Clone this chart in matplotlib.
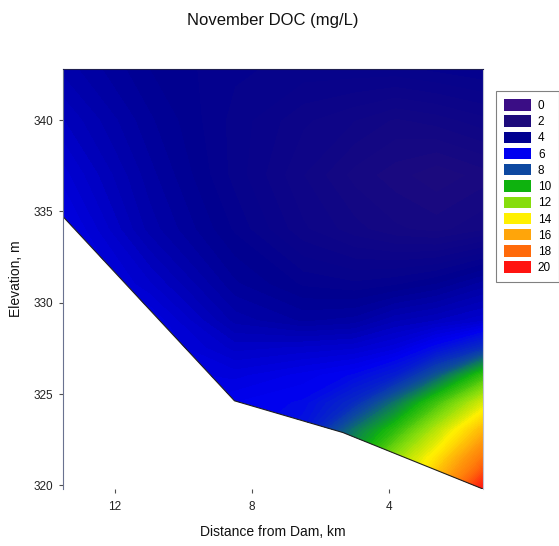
import matplotlib.pyplot as plt
import numpy as np
from matplotlib.colors import LinearSegmentedColormap
from matplotlib.patches import Polygon, Patch

plt.rcParams['font.family'] = ['Liberation Sans', 'DejaVu Sans']

# stations (km from dam) and elevations (m) of the DOC grid
dist_km = [13.5, 11.0, 8.5, 6.5, 5.0, 3.8, 2.6, 1.24]
elev_m = [342.8, 340, 337, 334, 331, 329, 327.5, 326, 324.5, 323, 321.5, 319.8]

# DOC (mg/L), one row per elevation, one column per station
doc = [
    [4.6, 4.0, 3.7, 3.6, 3.6, 3.6, 3.7, 3.8],      # 342.8
    [5.0, 4.2, 3.6, 3.2, 3.0, 2.8, 2.9, 3.1],      # 340
    [5.4, 4.4, 3.6, 3.0, 2.6, 2.4, 2.2, 2.4],      # 337
    [5.8, 4.6, 3.8, 3.2, 2.9, 2.7, 2.6, 2.8],      # 334
    [6.0, 5.2, 4.2, 3.8, 3.7, 3.8, 4.0, 4.4],      # 331
    [6.0, 5.7, 4.6, 4.3, 4.4, 4.8, 5.0, 5.3],      # 329
    [6.0, 5.8, 5.1, 5.2, 5.3, 5.6, 6.3, 7.3],      # 327.5
    [6.0, 5.8, 5.6, 5.9, 6.2, 6.8, 8.3, 10.6],     # 326
    [6.0, 5.8, 6.0, 6.2, 7.2, 8.8, 10.8, 13.3],    # 324.5
    [6.0, 5.8, 6.0, 6.5, 8.8, 10.5, 12.8, 15.5],   # 323
    [6.0, 5.8, 6.0, 6.5, 9.8, 12.2, 14.3, 17.5],   # 321.5
    [6.0, 5.8, 6.0, 6.5, 10.2, 13.0, 16.0, 20.0],  # 319.8
]

# reservoir bottom profile
bottom_km = [13.5, 8.5, 5.33, 1.24]
bottom_m = [334.7, 324.63, 322.89, 319.8]

legend_levels = [0, 2, 4, 6, 8, 10, 12, 14, 16, 18, 20]
legend_colors = ['#3a0d85', '#1e0b7c', '#000090', '#0000f0', '#0d48a0', '#0eb20e',
                 '#86dd0c', '#fff000', '#ffa50a', '#ff6a0a', '#ff1410']

cmap = LinearSegmentedColormap.from_list(
    "doc", [(v / 20, c) for v, c in zip(legend_levels, legend_colors)])

fig = plt.figure(figsize=(5.59, 5.46), dpi=100)
ax = fig.add_axes([63.3 / 559, 1 - 489 / 546, (483 - 63.3) / 559, (489 - 69) / 546])

X, Y = np.meshgrid(dist_km, elev_m)
cs = ax.contourf(X, Y, np.array(doc), levels=np.linspace(0, 20, 121), cmap=cmap,
                 vmin=0, vmax=20)
cs.set_edgecolor('face')
cs.set_linewidth(0.4)

# clip the field to the water column
water = list(zip(bottom_km, bottom_m)) + [(dist_km[-1], elev_m[0]), (dist_km[0], elev_m[0])]
poly = Polygon(water, closed=True, facecolor='none', edgecolor='none')
ax.add_patch(poly)
cs.set_clip_path(poly)
ax.plot(bottom_km, bottom_m, color='#202020', lw=0.8)

ax.set_xlim(dist_km[0], dist_km[-1])
ax.set_ylim(elev_m[-1], elev_m[0])
ax.set_xticks([12, 8, 4])
ax.set_yticks([320, 325, 330, 335, 340])

ax.spines['bottom'].set_visible(False)
ax.spines['left'].set_color('#6a7290')
ax.spines['left'].set_linewidth(0.8)
ax.spines['top'].set_color('#202050')
ax.spines['top'].set_linewidth(0.8)
ax.spines['right'].set_color('#c0c4d4')
ax.spines['right'].set_linewidth(0.8)

ax.tick_params(axis='x', direction='out', length=3, width=0.8, color='#505050',
               pad=6, labelsize=8.5, labelcolor='#222222')
ax.tick_params(axis='y', direction='out', length=3, width=0.8, color='#505050',
               pad=4, labelsize=8.5, labelcolor='#222222')

ax.set_xlabel('Distance from Dam, km', fontsize=10, color='#111111')
ax.xaxis.set_label_coords(0.5, -0.085)
ax.set_ylabel('Elevation, m', fontsize=10, color='#111111')
ax.yaxis.set_label_coords(-0.095, 0.5)

fig.text(273 / 559, 1 - 20 / 546, 'November DOC (mg/L)', ha='center', va='center',
         fontsize=12, color='#111111')

handles = [Patch(facecolor=c, edgecolor='none') for c in legend_colors]
leg = fig.legend(handles, [str(v) for v in legend_levels], loc='upper left',
                 bbox_to_anchor=(496 / 559, 1 - 91 / 546), fontsize=8.5,
                 handlelength=2.25, handleheight=1.1, handletextpad=0.6,
                 labelspacing=0.30, borderpad=0.7, borderaxespad=0,
                 fancybox=False, framealpha=1)
leg.get_frame().set_edgecolor('#808080')
leg.get_frame().set_linewidth(0.8)

fig.savefig("out.png", dpi=100)
